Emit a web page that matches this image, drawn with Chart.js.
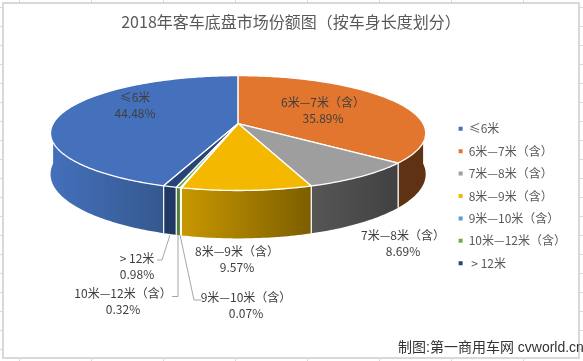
<!DOCTYPE html>
<html lang="zh">
<head>
<meta charset="utf-8">
<title>2018年客车底盘市场份额图</title>
<script src="https://cdn.jsdelivr.net/npm/chart.js@4"></script>
<style>
    html, body { margin: 0; padding: 0; width: 583px; height: 361px; overflow: hidden; background: #fff; }
    /* linhas da planilha atrás do gráfico */
    #sheet {
        position: absolute; left: 0; top: 0; width: 583px; height: 361px;
        background:
            repeating-linear-gradient(to right, transparent 0, transparent 19px, #d9d9d9 19px, #d9d9d9 20px, transparent 20px, transparent 72px),
            repeating-linear-gradient(to bottom, transparent 0, transparent 7px, #d9d9d9 7px, #d9d9d9 8px, transparent 8px, transparent 19px);
    }
    #panel { position: absolute; left: 2px; top: 2px; width: 574px; height: 353px; background: #fff; border: 2px solid #d9d9d9; }
    #chartBox { position: absolute; left: 0; top: 0; width: 583px; height: 361px; }
    #credit {
        position: absolute; left: 398px; top: 336px; white-space: nowrap; color: #333;
        font: 14px "Liberation Sans", "Noto Sans CJK SC", sans-serif;
    }
</style>
</head>
<body>
<div id="sheet"></div>
<div id="panel"></div>
<div id="chartBox"><canvas id="pieChart" width="583" height="361"></canvas></div>
<div id="credit">制图:第一商用车网 cvworld.cn</div>
<script>
const categories = ['≤6米', '6米—7米（含）', '7米—8米（含）', '8米—9米（含）', '9米—10米（含）', '10米—12米（含）', ' > 12米'];
const shares = [44.48, 35.89, 8.69, 9.57, 0.07, 0.32, 0.98];

// cores do topo e da lateral (início e fim do degradê)
const topColors = ['#4470BC', '#E2762F', '#9E9E9E', '#F4B800', '#5B9BD5', '#70AD47', '#264478'];
const wallFrom = ['#4470BC', '#5F3213', '#565656', '#C89800', '#41719C', '#548235', '#1F3864'];
const wallTo = ['#35588F', '#5F3213', '#414141', '#7C5E00', '#41719C', '#548235', '#1F3864'];

// centro de cada rótulo e linha de chamada (quando existe)
const labelCenters = [[135, 97], [323, 102], [403, 235], [237, 251], [246, 297], [123, 293], [137, 258]];
const leaderLines = [null, null, null, null,
    [[180, 235], [194, 300], [201, 300]],
    [[178, 235], [178, 296.5], [172, 296.5]],
    [[170, 235], [162, 260], [157, 260]]];

// fonte: dígitos estreitos com ideogramas maiores, como no original
const fontFamily = '"Liberation Sans Narrow", "Noto Sans CJK SC", sans-serif';

// perspectiva do disco
const squash = 0.302;
const tilt = 0.165;
const depth = 40;

function project(el, angle, drop) {
    const w = 1 - tilt * Math.sin(angle);
    return {
        x: el.x + el.outerRadius * Math.cos(angle) / w,
        y: el.y + squash * el.outerRadius * Math.sin(angle) / w + drop / w
    };
}

function rimPoints(el, from, to, drop) {
    const pts = [];
    const steps = Math.max(2, Math.ceil((to - from) * 60));
    for (let i = 0; i <= steps; i++) {
        pts.push(project(el, from + (to - from) * i / steps, drop));
    }
    return pts;
}

function drawWall(ctx, el, i, from, to) {
    const upper = rimPoints(el, from, to, 0);
    const lower = rimPoints(el, from, to, depth).reverse();
    const xs = upper.concat(lower).map(p => p.x);
    const grad = ctx.createLinearGradient(Math.min(...xs), 0, Math.max(...xs), 0);
    grad.addColorStop(0, wallFrom[i]);
    grad.addColorStop(1, wallTo[i]);
    ctx.beginPath();
    upper.concat(lower).forEach((p, n) => n ? ctx.lineTo(p.x, p.y) : ctx.moveTo(p.x, p.y));
    ctx.closePath();
    ctx.fillStyle = grad;
    ctx.fill();
}

function wallEdge(ctx, el, angle) {
    const a = project(el, angle, 0);
    const b = project(el, angle, depth);
    ctx.beginPath();
    ctx.moveTo(a.x, a.y);
    ctx.lineTo(b.x, b.y);
    ctx.strokeStyle = 'rgba(255,255,255,0.85)';
    ctx.lineWidth = 1;
    ctx.stroke();
}

// Desenha a pizza em 3D a partir dos arcos calculados pelo Chart.js
const pie3d = {
    id: 'pie3d',
    afterLayout(chart) {
        // legenda desce até a altura do original, título um pouco para a esquerda
        chart.legend.top += 88;
        chart.legend.bottom += 88;
        chart.legend.left -= 3;
        chart.legend.right -= 3;
        chart.titleBlock.left -= 11;
        chart.titleBlock.right -= 11;
    },
    beforeDatasetDraw(chart, args) {
        const ctx = chart.ctx;
        const arcs = args.meta.data;
        ctx.save();

        // laterais: só a metade da frente do disco aparece
        arcs.forEach((el, i) => {
            [-2 * Math.PI, 0, 2 * Math.PI].forEach(base => {
                const from = Math.max(el.startAngle, base);
                const to = Math.min(el.endAngle, base + Math.PI);
                if (to > from) drawWall(ctx, el, i, from, to);
            });
        });
        arcs.forEach(el => {
            [el.startAngle, el.endAngle].forEach(a => {
                if (Math.sin(a) > 0.05) wallEdge(ctx, el, a);
            });
        });

        // topo das fatias
        ctx.lineJoin = 'round';
        arcs.forEach((el, i) => {
            ctx.beginPath();
            ctx.moveTo(el.x, el.y);
            rimPoints(el, el.startAngle, el.endAngle, 0).forEach(p => ctx.lineTo(p.x, p.y));
            ctx.closePath();
            ctx.fillStyle = topColors[i];
            ctx.fill();
            ctx.strokeStyle = '#fff';
            ctx.lineWidth = 1.3;
            ctx.stroke();
        });

        ctx.restore();
        return false; // o arco plano padrão não é desenhado
    },
    afterDraw(chart) {
        const ctx = chart.ctx;
        ctx.save();

        // linhas de chamada
        ctx.strokeStyle = '#a6a6a6';
        ctx.lineWidth = 1;
        leaderLines.forEach(line => {
            if (!line) return;
            ctx.beginPath();
            line.forEach((p, n) => n ? ctx.lineTo(p[0], p[1]) : ctx.moveTo(p[0], p[1]));
            ctx.stroke();
        });

        // rótulos: categoria em cima, percentual embaixo
        ctx.font = '12px ' + fontFamily;
        ctx.textAlign = 'center';
        ctx.textBaseline = 'middle';
        ctx.fillStyle = '#404040';
        categories.forEach((name, i) => {
            const [x, y] = labelCenters[i];
            ctx.fillText(name.trim(), x, y);
            ctx.fillText(shares[i].toFixed(2) + '%', x, y + 16);
        });

        ctx.restore();
    }
};

new Chart(document.getElementById('pieChart'), {
    type: 'pie',
    data: {
        labels: categories,
        datasets: [{
            data: shares,
            backgroundColor: topColors,
            borderWidth: 0
        }]
    },
    plugins: [pie3d],
    options: {
        responsive: false,
        animation: false,
        radius: 185,
        rotation: -360 * shares[0] / 100,
        font: { family: fontFamily },
        layout: { padding: { left: 25, right: 4, top: 0, bottom: 145 } },
        plugins: {
            tooltip: { enabled: false },
            title: {
                display: true,
                text: '2018年客车底盘市场份额图（按车身长度划分）',
                color: '#595959',
                font: { size: 16, weight: 'normal', family: fontFamily },
                padding: { top: 12, bottom: 0 }
            },
            legend: {
                position: 'right',
                labels: {
                    boxWidth: 4,
                    boxHeight: 4,
                    padding: 10.4,
                    color: '#595959',
                    font: { size: 12, family: fontFamily }
                }
            }
        }
    }
});
</script>
</body>
</html>
